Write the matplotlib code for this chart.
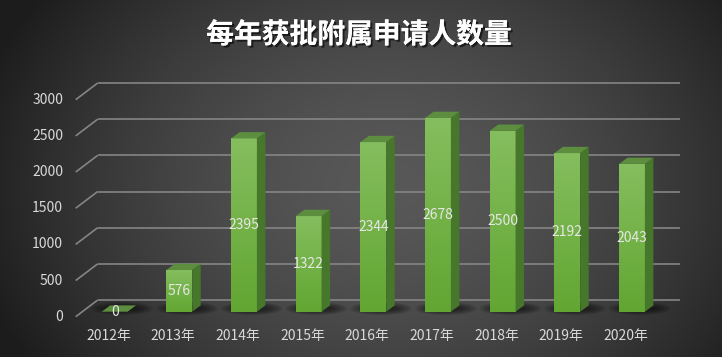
import numpy as np
import matplotlib
matplotlib.use("Agg")
import matplotlib.pyplot as plt
import matplotlib.patheffects as pe
from matplotlib.patches import Polygon, Ellipse
from matplotlib.colors import LinearSegmentedColormap

years = ["2012年", "2013年", "2014年", "2015年", "2016年", "2017年", "2018年", "2019年", "2020年"]
counts = [0, 576, 2395, 1322, 2344, 2678, 2500, 2192, 2043]
yticks = [0, 500, 1000, 1500, 2000, 2500, 3000]
title = "每年获批附属申请人数量"

plt.rcParams["font.family"] = ["Noto Sans CJK SC", "DejaVu Sans"]

W, H, DPI = 722, 357, 100
fig = plt.figure(figsize=(W / DPI, H / DPI), dpi=DPI)

# dark radial background
bg = fig.add_axes([0, 0, 1, 1])
yy, xx = np.mgrid[0:H, 0:W]
r = np.sqrt(((xx - 390) / 430) ** 2 + ((yy - 185) / 330) ** 2)
v = (0x58 - (0x58 - 0x1c) * np.clip(r, 0, 1) ** 1.6) / 255
bg.imshow(np.dstack([v, v, v]), extent=(0, W, H, 0), aspect="auto")
bg.axis("off")

# plot plane: pixel geometry of the bar front faces
left_px, right_px, base_px, top_px = 82.3, 664.3, 311.7, 94.7
ax = fig.add_axes([left_px / W, (H - base_px) / H, (right_px - left_px) / W, (base_px - top_px) / H])
ax.patch.set_alpha(0)
ax.axis("off")
xmin, xmax, ymax = -0.5, len(years) - 0.5, 3000
sx = (right_px - left_px) / (xmax - xmin)   # px per x unit
sy = (base_px - top_px) / ymax              # px per y unit


def px(dx, dy):
    return dx / sx, dy / sy


# depth offsets (px): floor front, back wall, bar depth
fx, fy = px(-6.6, -5.0)
bx, by = px(15.4, 11.7)
dx, dy = px(8.5, 6.3)
grid_kw = dict(color="#858585", lw=1.2, clip_on=False, zorder=1, solid_capstyle="butt")

for t in yticks:
    ax.plot([xmin + fx, xmin + bx], [t + fy, t + by], **grid_kw)
    ax.plot([xmin + bx, xmax + bx], [t + by, t + by], **grid_kw)
    lx, _ = px(12.7, 0)
    ax.text(xmin + fx - lx, t + fy, str(t), ha="right", va="center",
            color="#d9d9d9", fontsize=10)

front_cmap = LinearSegmentedColormap.from_list("front", ["#85be5e", "#62a632"])
grad = np.linspace(0, 1, 128).reshape(-1, 1)
bw = 0.4

for i, (lab, c) in enumerate(zip(years, counts)):
    x0, x1 = i - bw / 2, i + bw / 2
    # soft shadow on the floor
    for k in range(6):
        sw = 0.95 - k * 0.09
        sh = (13 - k * 1.6) / sy
        ax.add_patch(Ellipse((i + 0.12, dy * 0.5), sw, sh, color="black",
                             alpha=0.1, lw=0, clip_on=False, zorder=2))
    if c > 0:
        rect = ax.bar(i, c, width=bw, color="none", zorder=3)[0]
        im = ax.imshow(grad, cmap=front_cmap, extent=(x0, x1, 0, c),
                       aspect="auto", zorder=3, origin="upper")
        im.set_clip_path(rect)
        ax.add_patch(Polygon([(x1, 0), (x1, c), (x1 + dx, c + dy), (x1 + dx, dy)],
                             closed=True, color="#46772a", lw=0, zorder=3))
    ax.add_patch(Polygon([(x0, c), (x1, c), (x1 + dx, c + dy), (x0 + dx, c + dy)],
                         closed=True, color="#5d8e40", lw=0, zorder=3))
    ax.text(i, c / 2, str(c), ha="center", va="center", color="#e6e6e6",
            fontsize=10, zorder=5)
    ox, oy = px(-6, -24.5)
    ax.text(i + ox, oy, lab, ha="center", va="center", color="#d9d9d9",
            fontsize=10, clip_on=False)

ax.set_xlim(xmin, xmax)
ax.set_ylim(0, ymax)

fig.text(0.497, 0.902, title, ha="center", va="center", color="white",
         fontsize=20, fontweight="bold",
         path_effects=[pe.withSimplePatchShadow(offset=(1.5, -1.5), shadow_rgbFace="black", alpha=0.6),
                       pe.Normal()])

fig.savefig("out.png", dpi=DPI)
